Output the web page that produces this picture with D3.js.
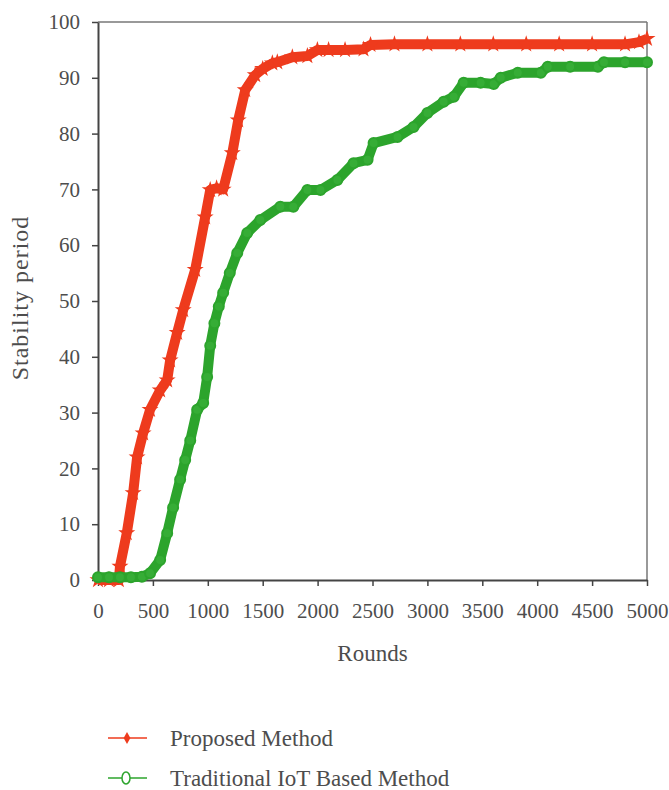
<!DOCTYPE html>
<html>
<head>
<meta charset="utf-8">
<script src="https://cdn.jsdelivr.net/npm/d3@7"></script>
<style>
  body { margin: 0; background: #fff; }
  svg text { font-family: "Liberation Serif", "DejaVu Serif", serif; fill: #4d4d4d; }
</style>
</head>
<body>
<svg id="chart"></svg>
<script>
// values
var proposedRounds = [0, 100, 190, 200, 262, 320, 356, 411, 474, 566, 630, 657, 721, 776, 885, 976, 1022, 1080, 1140, 1223, 1277, 1341, 1432, 1500, 1588, 1633, 1770, 1907, 1998, 2100, 2250, 2418, 2482, 2700, 3000, 3300, 3600, 3900, 4200, 4500, 4800, 4927, 5000]
var proposedValues = [0, 0, 0, 2.4, 8.4, 15.6, 22, 26.3, 30.5, 34, 35.8, 39.4, 44.3, 48.4, 55.6, 65, 69.9, 70.2, 70, 76.5, 82.4, 87.8, 90.5, 91.6, 92.6, 92.8, 93.7, 93.9, 95, 95, 95, 95.1, 95.9, 96, 96, 96, 96, 96, 96, 96, 96, 96.4, 97]

var traditionalRounds = [0, 100, 200, 300, 400, 474, 566, 630, 684, 748, 794, 840, 903, 958, 994, 1022, 1060, 1100, 1140, 1200, 1268, 1359, 1478, 1660, 1779, 1907, 2026, 2180, 2327, 2455, 2510, 2728, 2874, 3000, 3148, 3240, 3330, 3485, 3604, 3668, 3823, 4033, 4096, 4300, 4553, 4608, 4800, 5000]
var traditionalValues = [0.5, 0.5, 0.5, 0.5, 0.6, 1.2, 3.6, 8.4, 13, 18, 21.5, 25, 30.5, 31.7, 36.4, 42, 46, 49, 51.5, 55, 58.6, 62.2, 64.5, 66.9, 66.9, 69.9, 69.9, 71.7, 74.7, 75.3, 78.3, 79.4, 81.2, 83.7, 85.7, 86.6, 89.1, 89.1, 88.9, 90, 90.9, 90.9, 92, 92, 92, 92.8, 92.8, 92.8]

var xTicks = [0, 500, 1000, 1500, 2000, 2500, 3000, 3500, 4000, 4500, 5000]
var yTicks = [0, 10, 20, 30, 40, 50, 60, 70, 80, 90, 100]
var seriesNames = ['Proposed Method', 'Traditional IoT Based Method']
var seriesColors = ['#ee3b1d', '#2ca42c']

var width = 669
var height = 790
var plotLeft = 98, plotRight = 647, plotTop = 22, plotBottom = 580

var svg = d3.select('#chart')
    .attr('width', width)
    .attr('height', height)

var xScale = d3.scaleLinear()
    .domain([0, 5000])
    .range([plotLeft, plotRight])

var yScale = d3.scaleLinear()
    .domain([0, 100])
    .range([plotBottom, plotTop])

// box on top and right
svg.append('line')
    .attr('x1', plotLeft).attr('x2', plotRight)
    .attr('y1', plotTop).attr('y2', plotTop)
    .attr('stroke', '#777').attr('stroke-width', 1.5)
svg.append('line')
    .attr('x1', plotRight).attr('x2', plotRight)
    .attr('y1', plotTop).attr('y2', plotBottom)
    .attr('stroke', '#777').attr('stroke-width', 1.5)

// axes
var xAxis = d3.axisBottom(xScale)
    .tickValues(xTicks)
    .tickFormat(d3.format('d'))
    .tickSize(6)
    .tickSizeOuter(0)
    .tickPadding(17)

var yAxis = d3.axisLeft(yScale)
    .tickValues(yTicks)
    .tickFormat(d3.format('d'))
    .tickSize(6)
    .tickSizeOuter(0)
    .tickPadding(12)

var gx = svg.append('g')
    .attr('transform', 'translate(0,' + plotBottom + ')')
    .call(xAxis)
var gy = svg.append('g')
    .attr('transform', 'translate(' + plotLeft + ',0)')
    .call(yAxis)

;[gx, gy].forEach(function (g) {
    g.select('.domain').attr('stroke', '#444').attr('stroke-width', 2)
    g.selectAll('.tick line').attr('stroke', '#444').attr('stroke-width', 1.5)
    g.selectAll('.tick text')
        .style('font-family', '"Liberation Serif", serif')
        .style('font-size', '21px')
        .attr('fill', '#4d4d4d')
})

// series
var proposed = proposedRounds.map(function (r, i) { return [r, proposedValues[i]] })
var traditional = traditionalRounds.map(function (r, i) { return [r, traditionalValues[i]] })

var line = d3.line()
    .x(d => xScale(d[0]))
    .y(d => yScale(d[1]))

svg.append('path')
    .datum(proposed)
    .attr('fill', 'none')
    .attr('stroke', seriesColors[0])
    .attr('stroke-width', 10)
    .attr('stroke-linejoin', 'round')
    .attr('d', line)

svg.selectAll('.pmark')
    .data(proposed)
    .enter()
    .append('path')
        .attr('class', 'pmark')
        .attr('transform', d => 'translate(' + xScale(d[0]) + ',' + yScale(d[1]) + ')')
        .attr('d', d3.symbol().type(d3.symbolStar).size(90))
        .attr('fill', seriesColors[0])

svg.append('path')
    .datum(traditional)
    .attr('fill', 'none')
    .attr('stroke', seriesColors[1])
    .attr('stroke-width', 10)
    .attr('stroke-linejoin', 'round')
    .attr('d', line)

svg.selectAll('.tmark')
    .data(traditional)
    .enter()
    .append('circle')
        .attr('class', 'tmark')
        .attr('cx', d => xScale(d[0]))
        .attr('cy', d => yScale(d[1]))
        .attr('r', 5)
        .attr('fill', '#36ad36')
        .attr('stroke', seriesColors[1])
        .attr('stroke-width', 2)

// axis labels
svg.append('text')
    .text('Rounds')
    .attr('text-anchor', 'middle')
    .attr('x', (plotLeft + plotRight) / 2)
    .attr('y', 661)
    .style('font-size', '23px')

svg.append('text')
    .text('Stability period')
    .attr('text-anchor', 'middle')
    .attr('transform', 'translate(28,298) rotate(-90)')
    .style('font-size', '24px')
    .style('letter-spacing', '1px')

// legend
var legendY = [738, 778]
var legend = svg.selectAll('.legend')
    .data(seriesNames)
    .enter()
    .append('g')
        .attr('class', 'legend')
        .attr('transform', (d, i) => 'translate(0,' + legendY[i] + ')')

legend.append('line')
    .attr('x1', 108).attr('x2', 147)
    .attr('y1', 0).attr('y2', 0)
    .attr('stroke', (d, i) => seriesColors[i])
    .attr('stroke-width', 1.5)

legend.filter((d, i) => i === 0)
    .append('path')
        .attr('transform', 'translate(127,0)')
        .attr('d', d3.symbol().type(d3.symbolDiamond).size(40))
        .attr('fill', seriesColors[0])

legend.filter((d, i) => i === 1)
    .append('ellipse')
        .attr('cx', 126).attr('cy', 0)
        .attr('rx', 4).attr('ry', 6)
        .attr('fill', '#fff')
        .attr('stroke', seriesColors[1])
        .attr('stroke-width', 1.5)

legend.append('text')
    .text(d => d)
    .attr('x', 170)
    .attr('y', 8)
    .style('font-size', '23px')
</script>
</body>
</html>
